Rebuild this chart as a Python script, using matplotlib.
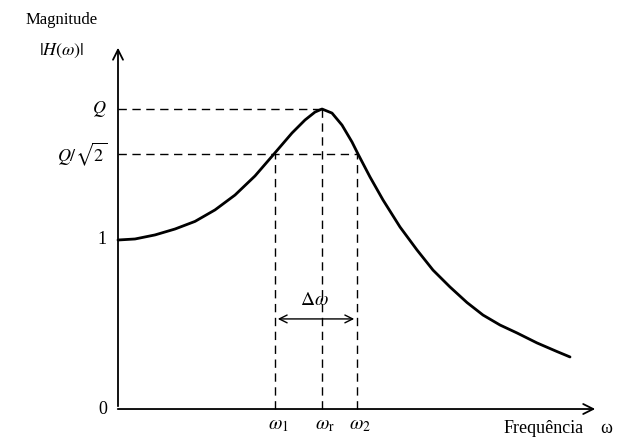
import matplotlib
matplotlib.use('Agg')
import matplotlib.pyplot as plt

plt.rcParams['font.family'] = ['Liberation Serif', 'DejaVu Serif']
plt.rcParams['mathtext.fontset'] = 'stix'

# curve (x in arbitrary freq units, y in units of |H| where 1 = dc gain)
freq = [0, .17, .37, .57, .77, .97, 1.17, 1.37, 1.56, 1.74, 1.87, 1.97, 2.04, 2.14, 2.24, 2.34,
        2.40, 2.52, 2.65, 2.82, 2.99, 3.15, 3.32, 3.49, 3.65, 3.82, 3.99, 4.19, 4.39, 4.52]
mag = [1.000, 1.006, 1.030, 1.065, 1.110, 1.178, 1.266, 1.379, 1.509, 1.633, 1.710, 1.757, 1.775,
       1.751, 1.680, 1.580, 1.509, 1.373, 1.237, 1.077, 0.941, 0.822, 0.722, 0.630, 0.556, 0.497,
       0.450, 0.391, 0.340, 0.308]

Q = 1.775
Q_half = 1.509
w1, wr, w2 = 1.57, 2.04, 2.39
y_labels = ['0', '1', r'$Q/\sqrt{2}$', r'$Q$']
y_levels = [0, 1, Q_half, Q]
x_labels = [r'$\omega_1$', r'$\omega_\mathrm{r}$', r'$\omega_2$']
x_levels = [w1, wr, w2]

fig = plt.figure(figsize=(6.22, 4.44), dpi=100)
ax = fig.add_axes([0, 0, 1, 1])
ax.set_xlim(-1.18, 5.04)
ax.set_ylim(-0.207, 2.42)
ax.axis('off')

# axes with open arrow heads
ax.annotate('', xy=(0, 2.154), xytext=(0, 0),
            arrowprops=dict(arrowstyle='->', lw=1.3, color='k', mutation_scale=18))
ax.annotate('', xy=(4.80, 0), xytext=(-0.03, 0),
            arrowprops=dict(arrowstyle='->', lw=1.3, color='k', mutation_scale=18))

ax.plot(freq, mag, color='k', lw=2, solid_joinstyle='round', solid_capstyle='round')

dash = (0, (6, 4))
ax.plot([0, wr], [Q, Q], color='k', lw=1, linestyle=dash)
ax.plot([0, w2], [Q_half, Q_half], color='k', lw=1, linestyle=dash)
ax.plot([w1, w1], [0, Q_half], color='k', lw=1, linestyle=dash)
ax.plot([wr, wr], [0, Q], color='k', lw=1, linestyle=dash)
ax.plot([w2, w2], [0, Q_half], color='k', lw=1, linestyle=dash)

# bandwidth arrow
ax.annotate('', xy=(w1, 0.533), xytext=(w2, 0.533),
            arrowprops=dict(arrowstyle='<->', lw=1, color='k', mutation_scale=14))
ax.text((w1 + w2) / 2 - 0.02, 0.64, r'$\Delta\omega$', ha='center', va='center', fontsize=14)

for lab, lev in zip(y_labels, y_levels):
    ax.text(-0.11, lev, lab, ha='right', va='center', fontsize=13)
for lab, lev in zip(x_labels, x_levels):
    ax.text(lev + 0.03, -0.10, lab, ha='center', va='center', fontsize=14)

ax.text(-0.56, 2.30, 'Magnitude', ha='center', va='center', fontsize=12)
ax.text(-0.56, 2.12, r'$|H(\omega)|$', ha='center', va='center', fontsize=13)
ax.text(4.66, -0.115, 'Frequência', ha='right', va='center', fontsize=13)
ax.text(4.88, -0.115, 'ω', ha='center', va='center', fontsize=13)

fig.savefig('out.png', dpi=100)
